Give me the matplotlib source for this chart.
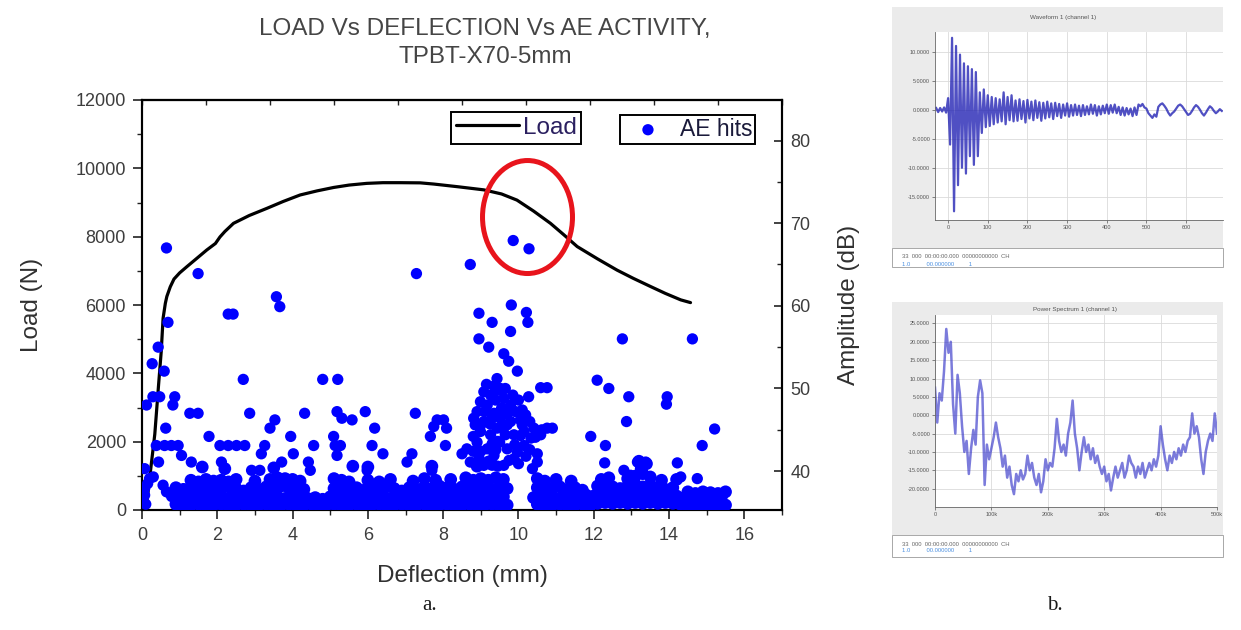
import numpy as np
import matplotlib
matplotlib.use('Agg')
import matplotlib.pyplot as plt
from matplotlib.patches import Ellipse, Rectangle
from matplotlib.ticker import MultipleLocator, NullFormatter

plt.rcParams['font.family'] = ['Liberation Sans', 'DejaVu Sans']

# ---------------- data: load curve ----------------
load_deflection_mm = [0, 0.11, 0.2, 0.34, 0.44, 0.51, 0.56, 0.62, 0.66, 0.75, 0.85, 1.0, 1.19, 1.45,
                      1.72, 1.95, 2.07, 2.2, 2.43, 2.85, 3.32, 3.75, 4.2, 4.65, 5.09, 5.5, 5.97, 6.4,
                      6.86, 7.39, 7.75, 8.4, 9.08, 9.55, 9.96, 10.4, 10.85, 11.2, 11.56, 12.1, 12.62,
                      13.05, 13.51, 13.9, 14.31, 14.57]
load_n = [0, 50, 900, 2220, 3660, 4630, 5610, 6050, 6250, 6530, 6760, 6940, 7120, 7360,
          7610, 7800, 7990, 8150, 8390, 8620, 8830, 9030, 9220, 9340, 9440, 9510, 9560, 9580,
          9580, 9575, 9540, 9460, 9370, 9250, 9070, 8750, 8390, 8060, 7710, 7350, 7020,
          6780, 6540, 6340, 6150, 6070]

# ---------------- data: AE hits (deflection mm, amplitude dB) ----------------
ae_sparse = [
    (0.65, 67.0), (1.49, 63.9), (3.57, 61.1), (3.66, 59.9), (2.29, 59.0), (2.42, 59.0), (0.69, 58.0),
    (0.43, 55.0), (0.27, 53.0), (0.59, 52.1), (2.69, 51.1), (0.29, 49.0), (0.47, 49.0), (0.87, 49.0),
    (0.82, 48.0), (0.12, 48.0), (1.27, 47.0), (1.49, 47.0), (2.86, 47.0), (3.53, 46.2), (3.40, 45.2),
    (3.95, 44.2), (0.63, 45.2), (1.78, 44.2), (0.38, 43.1), (0.60, 43.1), (0.78, 43.1), (0.96, 43.1),
    (2.07, 43.1), (2.29, 43.1), (2.51, 43.1), (2.73, 43.1), (3.26, 43.1), (3.17, 42.1), (4.02, 42.1),
    (1.05, 41.9), (1.31, 41.1), (2.11, 41.1), (0.44, 41.1), (3.71, 41.1), (2.91, 40.1), (3.13, 40.1),
    (0.07, 40.3), (0.20, 39.1), (0.56, 38.3), (0.65, 37.5), (0.07, 37.9), (0.07, 37.1), (0.30, 39.3),
    (0.15, 38.5), (0.10, 36.0),
    (7.29, 63.9), (4.80, 51.1), (5.20, 51.1), (4.32, 47.0), (5.18, 47.2), (5.31, 46.4), (5.58, 46.2),
    (5.93, 47.2), (6.18, 45.2), (7.26, 47.0), (7.84, 46.2), (8.01, 46.2), (7.75, 45.4), (7.66, 44.2),
    (4.56, 43.1), (5.09, 44.2), (5.13, 43.1), (5.27, 43.1), (5.18, 41.9), (6.11, 43.1), (6.40, 42.1),
    (7.17, 42.1), (7.04, 41.1), (8.06, 43.1), (4.42, 41.1), (4.47, 40.1), (5.98, 40.1), (7.70, 40.1),
    (8.09, 45.2), (8.50, 42.1),
    (8.72, 65.0), (9.86, 67.9), (10.28, 66.9), (9.81, 60.1), (8.95, 59.1), (9.30, 58.0), (9.79, 56.9),
    (10.21, 59.2), (10.25, 58.0), (8.95, 56.0), (9.21, 55.0), (9.61, 54.2), (9.74, 53.3), (9.97, 52.1),
    (9.43, 51.2), (9.65, 50.0), (9.52, 50.0), (10.59, 50.1), (10.76, 50.1), (10.27, 49.0), (10.90, 45.2),
    (10.62, 45.0), (10.45, 44.1), (10.50, 42.1), (10.50, 41.1), (10.37, 40.3),
    (9.08, 49.6), (9.26, 49.2), (8.99, 48.4), (8.90, 47.2), (9.17, 48.0), (9.39, 48.6), (9.61, 48.8),
    (9.79, 48.0), (9.92, 47.2), (10.10, 47.4), (8.81, 46.4), (9.08, 46.0), (9.52, 46.4), (10.05, 46.2),
    (10.19, 46.8), (8.99, 44.8), (9.26, 44.4), (9.43, 45.2), (9.70, 45.6), (9.88, 44.4), (10.15, 44.8),
    (10.33, 44.0), (8.90, 43.5), (9.17, 42.7), (9.35, 41.9), (9.70, 42.7), (9.97, 42.3), (10.15, 43.1),
    (8.63, 42.7), (9.08, 40.7), (9.61, 40.7), (9.88, 41.5), (10.41, 45.2), (10.59, 44.4), (10.76, 45.2),
    (8.72, 41.1), (9.35, 47.0), (9.79, 46.0), (9.50, 43.5), (9.00, 45.6),
    (8.85, 45.6), (8.80, 44.2), (9.10, 47.2), (9.30, 46.4), (9.45, 49.8), (9.55, 47.6), (9.70, 47.0),
    (9.85, 49.2), (10.00, 48.6), (9.65, 44.4), (9.45, 43.6), (9.30, 43.3), (9.00, 42.4), (8.80, 42.4),
    (9.20, 41.2), (9.45, 40.6), (9.75, 41.3), (10.00, 40.9), (10.20, 41.8), (10.10, 45.6), (10.30, 46.0),
    (9.15, 50.5), (9.35, 50.3), (9.55, 45.2), (9.25, 45.7), (8.95, 41.6), (10.05, 44.3), (9.90, 43.2),
    (10.30, 42.6), (9.40, 42.6),
    (12.09, 51.0), (11.92, 44.2), (12.76, 56.0), (14.62, 56.0), (12.40, 50.0), (12.93, 49.0),
    (13.95, 49.0), (13.93, 48.1), (12.87, 46.0), (15.21, 45.1), (14.88, 43.1), (12.31, 43.1),
    (12.29, 41.0), (14.22, 41.0), (14.75, 39.1), (13.16, 41.1), (13.38, 41.1), (13.24, 40.3),
    (12.80, 40.1), (12.98, 39.5), (14.31, 39.3),
]

# dense low-amplitude hits forming the band along the bottom
ae_band = [
    (0.9, 36.0), (1.1, 35.8), (1.3, 35.9), (1.5, 36.0), (1.7, 35.8), (1.9, 35.9), (2.1, 36.0), (2.3, 35.8),
    (2.5, 35.9), (2.7, 36.0), (2.9, 35.8), (3.1, 35.9), (3.3, 36.0), (3.5, 35.8), (3.7, 35.9), (3.9, 36.0),
    (4.1, 35.8), (4.3, 35.9), (4.5, 36.0), (4.7, 35.8), (4.9, 35.9), (5.1, 36.0), (5.3, 35.8), (5.5, 35.9),
    (5.7, 36.0), (5.9, 35.8), (6.1, 35.9), (6.3, 36.0), (6.5, 35.8), (6.7, 35.9), (6.9, 36.0), (7.1, 35.8),
    (7.3, 35.9), (7.5, 36.0), (7.7, 35.8), (7.9, 35.9), (8.1, 36.0), (8.3, 35.8), (8.5, 35.9), (8.7, 36.0),
    (8.9, 35.8), (9.1, 35.9), (9.3, 36.0), (9.5, 35.8), (9.7, 35.9), (10.5, 36.0), (10.7, 35.8),
    (10.9, 35.9), (11.1, 36.0), (11.3, 35.8), (11.5, 35.9), (11.7, 36.0), (11.9, 35.8), (12.1, 36.1),
    (12.3, 36.2), (12.5, 36.1), (12.7, 36.2), (12.9, 36.1), (13.1, 36.2), (13.3, 36.1), (13.5, 36.2),
    (13.7, 36.1), (13.9, 36.2), (14.1, 36.1), (14.3, 36.0), (14.5, 35.8), (14.7, 35.9), (14.9, 35.8),
    (15.1, 35.9), (15.3, 35.8), (15.5, 35.9),
    (0.8, 37.0), (1.0, 36.8), (1.2, 36.9), (1.4, 37.1), (1.6, 36.8), (1.8, 37.0), (2.0, 36.9), (2.2, 36.7),
    (2.4, 37.0), (2.6, 36.8), (2.8, 36.9), (3.0, 37.1), (3.2, 36.8), (3.4, 37.0), (3.6, 36.9), (3.8, 36.7),
    (4.0, 37.0), (4.2, 36.8), (4.4, 36.7), (4.6, 36.8), (4.8, 36.6), (5.0, 36.9), (5.2, 37.0), (5.4, 36.8),
    (5.6, 36.9), (5.8, 37.1), (6.0, 36.8), (6.2, 37.0), (6.4, 36.9), (6.6, 36.7), (6.8, 37.0), (7.0, 36.8),
    (7.2, 36.9), (7.4, 37.1), (7.6, 36.8), (7.8, 37.0), (8.0, 36.9), (8.2, 36.7), (8.4, 37.0), (8.6, 36.8),
    (8.8, 36.9), (9.0, 37.1), (9.2, 36.8), (9.4, 37.0), (9.6, 36.9), (10.4, 36.8), (10.6, 37.0),
    (10.8, 36.9), (11.0, 36.7), (11.2, 37.0), (11.4, 36.8), (11.6, 36.9), (11.8, 37.1), (12.0, 37.0),
    (12.2, 37.2), (12.4, 37.1), (12.6, 37.3), (12.8, 37.0), (13.0, 37.2), (13.2, 37.1), (13.4, 37.3),
    (13.6, 37.0), (13.8, 37.2), (14.0, 37.1), (14.2, 37.0), (14.4, 36.8), (14.6, 36.9), (14.8, 36.7),
    (15.0, 36.9), (15.2, 36.8), (15.4, 37.0),
    (0.9, 38.0), (1.1, 37.8), (1.3, 38.1), (1.5, 37.9), (1.7, 37.7), (1.9, 38.0), (2.1, 37.8), (2.3, 38.1),
    (2.5, 37.9), (2.7, 37.6), (2.9, 38.0), (3.1, 37.8), (3.3, 38.1), (3.5, 37.9), (3.7, 38.2), (3.9, 38.0),
    (4.1, 38.1), (4.3, 37.8), (5.1, 37.9), (5.3, 38.1), (5.5, 37.8), (5.7, 38.0), (5.9, 37.7), (6.1, 38.0),
    (6.3, 37.8), (6.5, 38.1), (6.7, 37.9), (6.9, 37.6), (7.1, 38.0), (7.3, 37.8), (7.5, 38.1), (7.7, 37.9),
    (7.9, 38.2), (8.1, 38.0), (8.3, 37.8), (8.5, 38.1), (8.7, 37.9), (8.9, 38.2), (9.1, 38.0), (9.3, 37.8),
    (9.5, 38.1), (9.7, 37.9), (10.5, 38.0), (10.7, 38.2), (10.9, 37.9), (11.1, 38.1), (11.3, 37.8),
    (11.5, 38.0), (11.7, 37.7), (12.1, 38.2), (12.3, 38.4), (12.5, 38.1), (12.7, 37.9), (12.9, 38.2),
    (13.1, 38.4), (13.3, 38.1), (13.5, 38.3), (13.7, 38.0), (13.9, 37.8), (14.1, 38.0), (14.5, 37.5),
    (14.7, 37.3), (14.9, 37.5), (15.1, 37.4), (15.3, 37.3), (15.5, 37.5),
    (1.3, 38.9), (1.5, 38.7), (1.7, 39.0), (1.9, 38.8), (2.1, 38.9), (2.3, 38.7), (2.5, 39.0), (3.0, 38.8),
    (3.4, 39.0), (3.6, 39.2), (3.8, 39.1), (4.0, 39.0), (4.2, 38.8), (5.1, 39.1), (5.3, 38.9), (5.5, 38.7),
    (6.0, 38.9), (6.3, 38.7), (6.6, 39.0), (7.2, 38.8), (7.5, 39.1), (7.8, 38.9), (8.2, 39.0), (8.6, 39.2),
    (8.8, 38.9), (9.0, 39.1), (9.2, 38.9), (9.4, 39.2), (9.6, 39.0), (10.5, 39.1), (10.7, 38.8),
    (11.0, 39.0), (11.4, 38.8), (12.2, 39.0), (12.4, 39.2), (12.9, 39.1), (13.1, 39.4), (13.3, 39.7),
    (13.5, 39.3), (13.8, 38.9), (14.2, 39.0),
    (13.2, 41.2), (13.4, 40.9), (8.9, 40.6), (9.3, 40.8), (7.7, 40.6), (5.6, 40.6), (6.0, 40.5),
    (3.5, 40.4), (1.6, 40.5), (2.2, 40.3),
]

# ---------------- data: panel b (AE waveform, power spectrum) ----------------
wave_t0_us = -30
wave_dt_us = 5
wave_mv = [0.3, -0.4, 0.3, -0.3, 0.4, -0.5, 2.0, -6, 12.4, -17.5, 11, -13, 9.5, -10, 8, -11, 7.5, -8, 7,
           -9.5, 6.5, -8, 3, -4, 3.5, -3, 2.5, -2.8, 2.2, -2.5, 2.0, -2.2, 1.8, -2.0, 3.0, -2.5, 2.2, -1.8,
           2.5, -2.0, 1.6, -1.9, 1.8, -1.6, 1.5, -2.2, 1.7, -1.5, 1.4, -1.8, 1.6, -1.4, 1.3, -1.9, 1.2,
           -1.5, 1.4, -1.3, 1.1, -1.6, 1.2, -1.1, 1.0, -1.4, 0.9, -1.0, 1.1, -1.2, 0.8, -1.0, 0.9, -0.9,
           0.7, -1.1, 0.8, -0.9, 0.6, -0.8, 0.9, -0.7, 0.8, -1.0, 0.6, -0.8, 0.7, -0.6, 0.9, -0.7, 0.8,
           -0.5, 0.9, -0.6, 0.5, -0.9, 0.4, -1.0, 0.3, -0.8, 0.2, -1.1, 0.4, -0.9, 0.9, 0.6, 1.0, 0.4, 0.2,
           -0.6, -1.0, -1.4, -0.8, -1.2, 0.5, 0.9, 1.1, 0.7, 0.2, -0.5, -1.0, -0.6, -0.3, 0.2, 0.7, 0.9,
           0.6, 0.1, -0.4, -0.9, -0.7, -0.2, 0.4, 0.8, 0.5, 0.0, -0.6, -1.0, -0.5, 0.1, 0.6, 0.3, -0.2,
           -0.6, -0.3, 0.1, -0.2]
wave_xticks = [0, 100, 200, 300, 400, 500, 600]
wave_yticks = [10, 5, 0, -5, -10, -15]

spec_df_khz = 4
spec_db = [7.5, -2, 6, 4, 12, 23.5, 17, 20, 3, -5, 11, 6, -3, -10, -7, -16, -9, -4, -8, 5, 9.5, 6, -19,
           -8, -12, -9, -6, -2, -6, -9, -14, -11, -17, -14, -19, -21.5, -16, -18, -15, -17.5, -16, -11,
           -15, -13, -17, -19, -16, -21, -18, -12, -15, -13, -14, -9, -1, -7, -10, -8, -11, -5, -2, 4, -5,
           -9, -15, -10, -6, -10, -8, -12, -9, -13, -11, -14, -16, -14, -18, -16, -20.5, -17, -14, -17,
           -15, -13, -17, -15, -11, -13, -14, -17, -14, -16, -13, -17, -15, -13, -15, -12, -14, -11, -3,
           -8, -12, -15, -11, -13, -10, -12, -9, -11, -8, -10, -7, -6, 0.5, -5, -3, -6, -12, -16, -10, -7,
           -5, -7, 0.5, -5]
spec_xticks = [0, 100, 200, 300, 400, 500]
spec_xticklabels = ['0', '100k', '200k', '300k', '400k', '500k']
spec_yticks = [25, 20, 15, 10, 5, 0, -5, -10, -15, -20]

# ---------------- figure ----------------
W, H = 1241, 630
fig = plt.figure(figsize=(W / 100, H / 100), dpi=100)
fig.patch.set_facecolor('white')


def fx(px):
    return px / W


def fy(py):
    return 1 - py / H


tick_color = '#3d3d3d'

ax = fig.add_axes([fx(142), fy(510), fx(782) - fx(142), fy(100) - fy(510)])
ax2 = ax.twinx()

line, = ax.plot(load_deflection_mm, load_n, color='black', lw=2.3, solid_capstyle='round', zorder=3)
ax.set_xlim(0, 17)
ax.set_ylim(0, 12000)
ax.xaxis.set_major_locator(MultipleLocator(2))
ax.xaxis.set_minor_locator(MultipleLocator(1))
ax.yaxis.set_major_locator(MultipleLocator(2000))
ax.yaxis.set_minor_locator(MultipleLocator(1000))
ax.tick_params(axis='both', which='major', direction='out', length=6.5, width=1.2,
               labelsize=13, labelcolor=tick_color, color='#222222')
ax.tick_params(axis='both', which='minor', direction='out', length=3.5, width=1.0, color='#222222')
ax.tick_params(axis='x', which='both', pad=6, top=False)
ax.tick_params(axis='y', which='both', pad=5, right=False)
for sp in ax.spines.values():
    sp.set_linewidth(1.5)
for sp in ax2.spines.values():
    sp.set_linewidth(1.5)

ae_color = '#0000ff'
band_x = [p[0] for p in ae_band]
band_y = [p[1] for p in ae_band]
sparse_x = [p[0] for p in ae_sparse]
sparse_y = [p[1] for p in ae_sparse]
ax2.scatter(band_x, band_y, s=84, color=ae_color, edgecolors='none', zorder=4)
sc = ax2.scatter(sparse_x, sparse_y, s=66, color=ae_color, edgecolors='none', zorder=4)
ax2.set_ylim(35.3, 84.9)
ax2.yaxis.set_major_locator(MultipleLocator(10))
ax2.yaxis.set_minor_locator(MultipleLocator(5))
ax2.tick_params(axis='y', which='major', direction='in', length=5.5, width=1.2, pad=6,
                labelsize=13, labelcolor=tick_color, color='#222222')
ax2.tick_params(axis='y', which='minor', direction='in', length=3.5, width=1.0, color='#222222')

# top axis of the AE layer (ten equal divisions, no labels)
top = ax.secondary_xaxis('top', functions=(lambda v: v / 17.0, lambda f: f * 17.0))
top.xaxis.set_major_locator(MultipleLocator(0.1))
top.xaxis.set_major_formatter(NullFormatter())
top.tick_params(direction='in', length=3.5, width=1.0, color='#222222')
top.spines['top'].set_linewidth(1.5)

ax.set_xlabel('Deflection (mm)', fontsize=17.5, color='#303030')
ax.xaxis.set_label_coords(0.5, -0.135)
ax.set_ylabel('Load (N)', fontsize=17.5, color='#303030')
ax.yaxis.set_label_coords(-0.155, 0.5)
ax2.set_ylabel('Amplitude (dB)', fontsize=17.5, color='#303030')
ax2.yaxis.set_label_coords(1.088, 0.5)

fig.text(fx(485), fy(29), 'LOAD Vs DEFLECTION Vs AE ACTIVITY,', ha='center', va='center',
         fontsize=17.5, color='#454545')
fig.text(fx(485), fy(57), 'TPBT-X70-5mm', ha='center', va='center', fontsize=17.5, color='#454545')

# red highlight ellipse
ell = Ellipse((10.24, 8575), width=2.39, height=3307, fill=False, edgecolor='#e8141c', lw=3.6,
              zorder=6)
ax2.add_artist(ell)
ell.set_transform(ax.transData)

# legends
leg1 = ax2.legend(handles=[line], labels=['Load'], loc='upper left',
                  bbox_to_anchor=(fx(451), fy(112)), bbox_transform=fig.transFigure,
                  frameon=True, fancybox=False, edgecolor='black', framealpha=1,
                  borderpad=0.2, handlelength=2.6, handletextpad=0.15, borderaxespad=0,
                  prop={'size': 17.5}, labelcolor='#2b2060')
leg1.get_frame().set_linewidth(1.4)
ax2.add_artist(leg1)
leg2 = ax2.legend(handles=[sc], labels=['AE hits'], loc='upper left',
                  bbox_to_anchor=(fx(620), fy(115)), bbox_transform=fig.transFigure,
                  frameon=True, fancybox=False, edgecolor='black', framealpha=1,
                  borderpad=0.12, handlelength=2.2, handletextpad=0.3, borderaxespad=0,
                  scatterpoints=1, prop={'size': 16.5}, labelcolor='#1a1a3a')
leg2.get_frame().set_linewidth(1.4)

fig.text(fx(430), fy(605), 'a.', ha='center', va='center', fontsize=15,
         family=['Liberation Serif', 'DejaVu Serif'], color='#1a1a1a')
fig.text(fx(1055), fy(605), 'b.', ha='center', va='center', fontsize=15,
         family=['Liberation Serif', 'DejaVu Serif'], color='#1a1a1a')

# ---------------- panel b ----------------
small = 4.2
for (top_px, bot_px, sb_top, sb_bot) in [(7, 248, 248, 267), (302, 535, 535, 557)]:
    fig.add_artist(Rectangle((fx(892), fy(bot_px)), fx(1223) - fx(892), fy(top_px) - fy(bot_px),
                             transform=fig.transFigure, facecolor='#ebebeb', edgecolor='none', zorder=-2))
    fig.add_artist(Rectangle((fx(892), fy(sb_bot)), fx(1223) - fx(892), fy(sb_top) - fy(sb_bot),
                             transform=fig.transFigure, facecolor='white', edgecolor='#9a9a9a', lw=0.6,
                             zorder=-2))

fig.text(fx(1063), fy(18), 'Waveform 1 (channel 1)', ha='center', va='center', fontsize=4.5, color='#555555')
fig.text(fx(1075), fy(309), 'Power Spectrum 1 (channel 1)', ha='center', va='center', fontsize=4.5,
         color='#555555')
fig.text(fx(902), fy(257), '33  000  00:00:00.000  00000000000  CH', ha='left', va='center',
         fontsize=small, color='#666666')
fig.text(fx(902), fy(264), '1.0          00.000000         1', ha='left', va='center',
         fontsize=small, color='#4a8fe0')
fig.text(fx(902), fy(544), '33  000  00:00:00.000  00000000000  CH', ha='left', va='center',
         fontsize=small, color='#666666')
fig.text(fx(902), fy(551), '1.0          00.000000         1', ha='left', va='center',
         fontsize=small, color='#4a8fe0')

axw = fig.add_axes([fx(935), fy(220), fx(1223) - fx(935), fy(32) - fy(220)])
wave_t = [wave_t0_us + i * wave_dt_us for i in range(len(wave_mv))]
axw.plot(wave_t, wave_mv, color='#2424b4', lw=1.6, alpha=0.8)
axw.set_xlim(-33, 693)
axw.set_ylim(-19, 13.4)
axw.set_xticks(wave_xticks)
axw.set_xticklabels([str(v) for v in wave_xticks])
axw.set_yticks(wave_yticks)
axw.set_yticklabels(['%.4f' % v for v in wave_yticks])

axs = fig.add_axes([fx(935), fy(507), fx(1217) - fx(935), fy(315) - fy(507)])
spec_f = [i * spec_df_khz for i in range(len(spec_db))]
axs.plot(spec_f, spec_db, color='#3535c8', lw=1.8, alpha=0.65)
axs.set_xlim(0, 500)
axs.set_ylim(-25, 27.3)
axs.set_xticks(spec_xticks)
axs.set_xticklabels(spec_xticklabels)
axs.set_yticks(spec_yticks)
axs.set_yticklabels(['%.4f' % v for v in spec_yticks])

for a in (axw, axs):
    a.set_facecolor('white')
    a.grid(True, color='#dadada', lw=0.6)
    a.set_axisbelow(True)
    a.tick_params(labelsize=4, labelcolor='#555555', length=2, width=0.5, color='#555555', pad=1.5)
    for s in ('top', 'right'):
        a.spines[s].set_visible(False)
    for s in ('left', 'bottom'):
        a.spines[s].set_linewidth(0.6)
        a.spines[s].set_color('#666666')

fig.savefig('out.png', dpi=100)
